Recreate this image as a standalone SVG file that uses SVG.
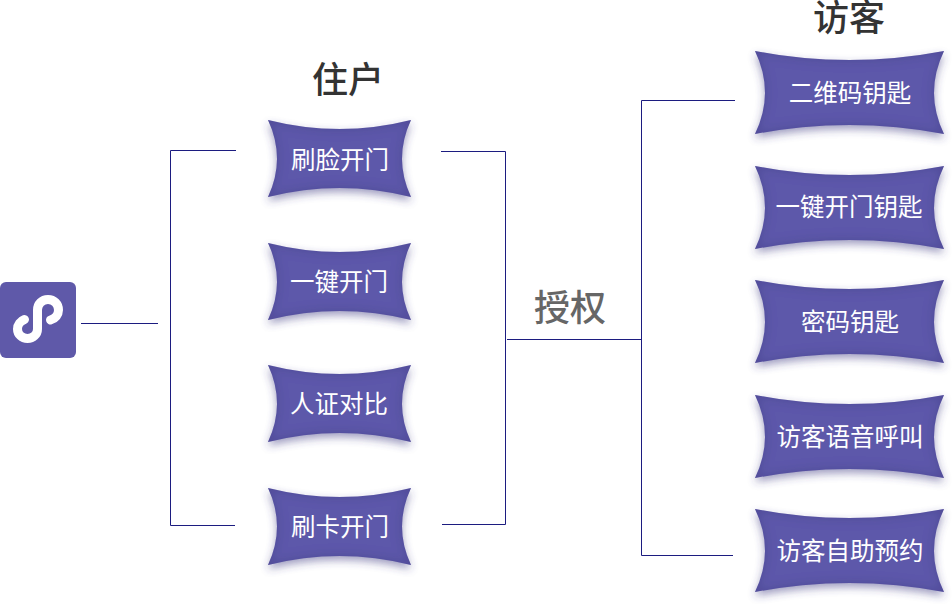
<svg xmlns="http://www.w3.org/2000/svg" width="952" height="604" viewBox="0 0 952 604">
<style>
text{font-family:"Noto Sans CJK SC","Liberation Sans",sans-serif;text-anchor:middle}
.t{font-size:24.500px;fill:#fff;font-weight:400}
.h{font-size:36px;fill:#333;font-weight:500}
.c{fill:none;stroke:#1c1c80;stroke-width:1}
.s{fill:#5d58aa;filter:url(#f)}
</style>
<defs>
<filter id="f" x="-15%" y="-15%" width="130%" height="140%">
<feGaussianBlur in="SourceAlpha" stdDeviation="4.500" result="b"/>
<feOffset in="b" dy="4" result="o"/>
<feFlood flood-color="#3c3880" flood-opacity="0.5"/>
<feComposite in2="o" operator="in" result="sh"/>
<feGaussianBlur in="SourceAlpha" stdDeviation="6" result="ib"/>
<feComposite in="SourceAlpha" in2="ib" operator="out" result="edge"/>
<feFlood flood-color="#2e2a6a" flood-opacity="0.4"/>
<feComposite in2="edge" operator="in" result="inner"/>
<feMerge><feMergeNode in="sh"/><feMergeNode in="SourceGraphic"/><feMergeNode in="inner"/></feMerge>
</filter>
<path id="a" d="M0 0Q71.500 18 143 0Q125 38.500 143 77Q71.500 59 0 77Q18 38.500 0 0Z"/>
<path id="b" d="M0 0Q94.500 18 189 0Q169 41.500 189 83Q94.500 65 0 83Q20 41.500 0 0Z"/>
</defs>
<g id="connectors">
<path class="c" d="M81 323.500H158"/>
<path class="c" d="M236 150.500H170.500V525.500H235"/>
<path class="c" d="M441 151.500H505.500V524.500H442"/>
<path class="c" d="M507 339.500H641"/>
<path class="c" d="M735 100.500H641.500V555.500H733"/>
</g>
<g id="app-icon">
<rect x="0" y="282" width="76" height="76" rx="6" fill="#5f59a9"/>
<path d="M50.500 320C55.500 318.500 58.500 314.500 58.500 310C58.500 304 54 299.500 48 299.500C42 299.500 37.500 304 37.500 310V329C37.500 334.500 33 338.500 27.500 338.500C22 338.500 17.500 334.500 17.500 329C17.500 324.500 20.500 321 24.500 319.500" fill="none" stroke="#fff" stroke-width="9" stroke-linecap="round"/>
</g>
<g id="title-resident"><text class="h" x="348" y="93">住户</text></g>
<g id="title-visitor"><text class="h" x="849" y="31">访客</text></g>
<g id="label-auth"><text class="h" x="570" y="321" style="fill:#666">授权</text></g>
<g id="n1"><use class="s" href="#a" x="268" y="120"/><text class="t" x="340" y="169">刷脸开门</text></g>
<g id="n2"><use class="s" href="#a" x="268" y="243"/><text class="t" x="339" y="291">一键开门</text></g>
<g id="n3"><use class="s" href="#a" x="268" y="365"/><text class="t" x="339" y="413">人证对比</text></g>
<g id="n4"><use class="s" href="#a" x="268" y="488"/><text class="t" x="340" y="536">刷卡开门</text></g>
<g id="v1"><use class="s" href="#b" x="755" y="51"/><text class="t" x="850" y="102">二维码钥匙</text></g>
<g id="v2"><use class="s" href="#b" x="755" y="166"/><text class="t" x="849" y="216">一键开门钥匙</text></g>
<g id="v3"><use class="s" href="#b" x="755" y="280"/><text class="t" x="850" y="331">密码钥匙</text></g>
<g id="v4"><use class="s" href="#b" x="755" y="395"/><text class="t" x="850" y="446">访客语音呼叫</text></g>
<g id="v5"><use class="s" href="#b" x="755" y="509"/><text class="t" x="850" y="560">访客自助预约</text></g>
</svg>
